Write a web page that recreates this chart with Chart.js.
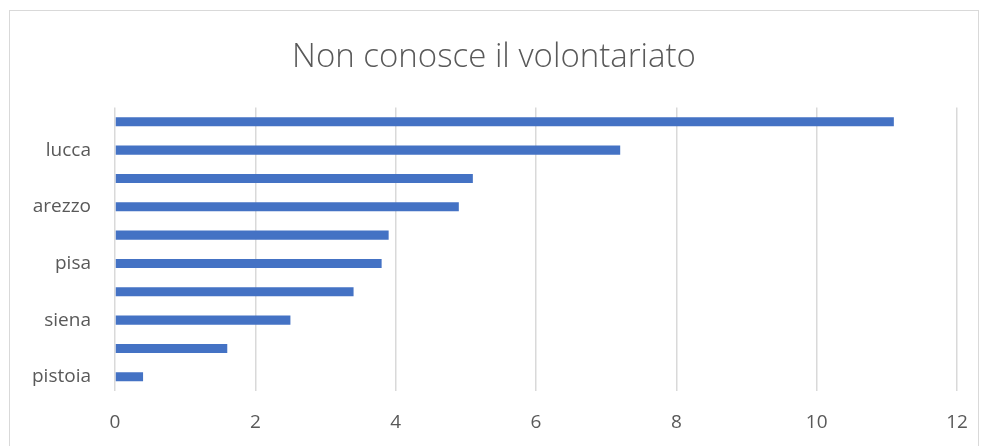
<!DOCTYPE html>
<html>
<head>
<meta charset="utf-8">
<script src="https://cdn.jsdelivr.net/npm/chart.js@4/dist/chart.umd.min.js"></script>
<style>
  html, body { margin: 0; padding: 0; background: #fff; }
  #frame {
    position: absolute;
    left: 9px;
    top: 10px;
    width: 970px;
    height: 460px;
    border: 1px solid #d9d9d9;
    box-sizing: border-box;
  }
  #wrap { position: absolute; left: 0; top: 0; width: 968px; height: 435px; }
</style>
</head>
<body>
<div id="frame">
  <div id="wrap"><canvas id="chart"></canvas></div>
</div>
<script>
const TITLE = 'Non conosce il volontariato';
const categories = ['firenze', 'lucca', 'prato', 'arezzo', 'livorno', 'pisa', 'grosseto', 'siena', 'massa carrara', 'pistoia'];
const values = [11.1, 7.2, 5.1, 4.9, 3.9, 3.8, 3.4, 2.5, 1.6, 0.4];
const xTicks = [0, 2, 4, 6, 8, 10, 12];

const textColor = '#595959';
const gridColor = '#d9d9d9';
const barColor = '#4472c4';

const ctx = document.getElementById('chart').getContext('2d');
const chart = new Chart(ctx, {
  type: 'bar',
  data: {
    labels: categories,
    datasets: [{
      data: values,
      backgroundColor: barColor,
      borderWidth: 0,
      barPercentage: 0.64,
      categoryPercentage: 0.5
    }]
  },
  options: {
    indexAxis: 'y',
    responsive: true,
    maintainAspectRatio: false,
    animation: false,
    layout: { padding: { left: 0, right: 0, top: 0, bottom: 0 } },
    plugins: {
      legend: { display: false },
      tooltip: { enabled: false },
      title: {
        display: true,
        text: TITLE,
        color: textColor,
        font: { family: 'Open Sans', size: 33, weight: '300', lineHeight: 1.2 },
        padding: { top: 27, bottom: 30 }
      }
    },
    scales: {
      x: {
        min: 0,
        max: 12,
        afterBuildTicks: axis => { axis.ticks = xTicks.map(v => ({ value: v })); },
        grid: { color: gridColor, lineWidth: 1.5, drawTicks: false },
        border: { display: false },
        ticks: {
          color: textColor,
          font: { family: 'Open Sans', size: 19 },
          padding: 20
        },
        afterFit: axis => {
          axis.height = 55;
          axis.paddingRight = 21;
          axis.paddingLeft = 0;
        }
      },
      y: {
        grid: { display: false },
        border: { display: false },
        ticks: {
          color: textColor,
          font: { family: 'Open Sans', size: 19 },
          padding: 16,
          autoSkip: false,
          callback: function (value, index) {
            return index % 2 === 1 ? this.getLabelForValue(value) : '';
          }
        },
        afterFit: axis => { axis.width = 105; }
      }
    }
  }
});
</script>
</body>
</html>
